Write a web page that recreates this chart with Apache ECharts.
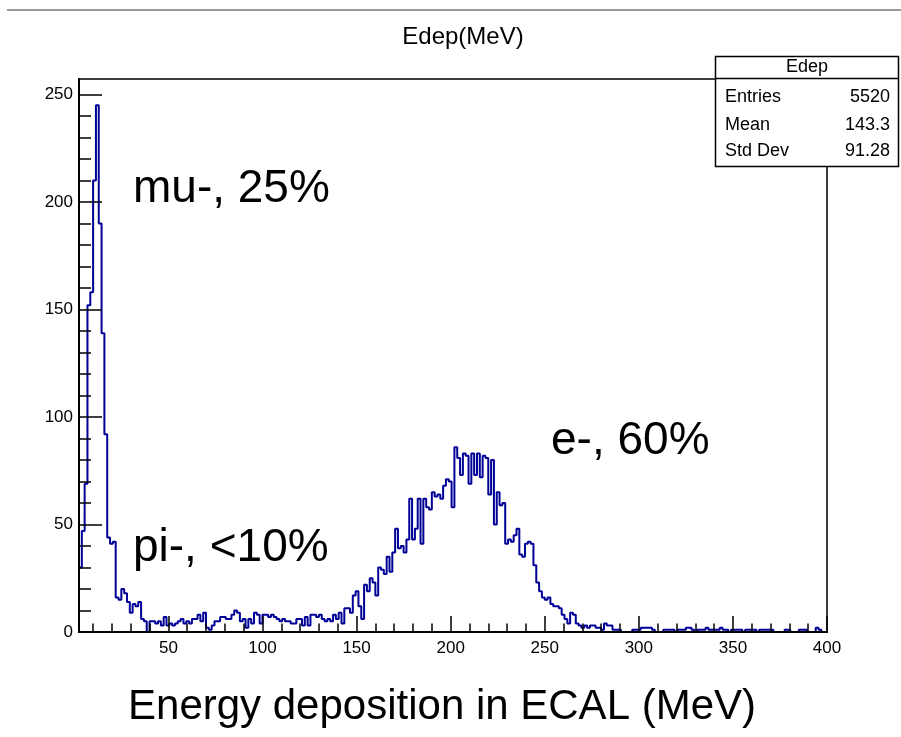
<!DOCTYPE html>
<html>
<head>
<meta charset="utf-8">
<script src="https://cdn.jsdelivr.net/npm/echarts@6/dist/echarts.min.js"></script>
<style>
  html, body { margin: 0; padding: 0; background: #ffffff; }
  #chart { width: 901px; height: 737px; }
</style>
</head>
<body>
<div id="chart"></div>
<script>
// Histogram binning (MeV)
const X_MIN = 2.5;
const X_MAX = 400;
const BIN_WIDTH = 1.5;
const Y_MAX = 257.25;

// Bin contents, split by region of the spectrum
const muonPeak = [30, 47, 69, 152, 158, 210, 245, 190, 139, 92, 44, 41, 42, 16, 15, 20, 18, 14, 9, 13, 12, 14];
const pionPlateau = [
  6, 5, 0, 5, 5, 4, 5, 3, 7, 3,
  4, 3, 4, 5, 6, 4, 5, 4, 6, 6,
  8, 5, 9, 2, 1, 3, 5, 5, 7, 7,
  6, 6, 8, 10, 9, 5, 6, 2, 6, 4,
  9, 8, 4, 8, 8, 7, 8, 7, 6, 5,
  6, 5, 5, 4, 4, 6, 6, 3, 7, 3,
  8, 8, 7, 8, 6, 5, 6, 5, 8, 6,
  9, 4, 11, 11, 9
];
const electronPeak = [
  17, 19, 12, 6, 22, 19, 25, 23, 17, 30,
  29, 27, 35, 28, 37, 48, 39, 40, 37, 43,
  62, 43, 48, 62, 41, 62, 58, 57, 65, 63,
  64, 62, 68, 71, 70, 58, 86, 81, 73, 83,
  82, 69, 83, 73, 83, 72, 82, 81, 64, 80,
  50, 65, 59, 60, 41, 43, 42, 45, 48, 36,
  35, 41, 42, 41, 31, 23, 19, 16, 15, 16,
  13, 12, 12, 11
];
const highTail = [
  8, 6, 4, 9, 8, 4, 3, 2, 3, 2,
  3, 3, 2, 2, 1, 4, 3, 3, 1, 1,
  1, 0, 0, 0, 0, 1, 1, 1, 2, 2,
  2, 2, 1, 0, 0, 0, 1, 1, 1, 1,
  0, 1, 1, 1, 2, 2, 1, 0, 1, 1,
  1, 2, 1, 1, 1, 1, 2, 1, 1, 0,
  1, 1, 1, 1, 0, 1, 1, 1, 1, 0,
  1, 1, 1, 1, 1, 0, 0, 0, 0, 1,
  1, 0, 0, 0, 1, 1, 1, 0, 0, 0,
  2, 1, 0, 0
];

// Axis ticks
const xMajorTicks = [50, 100, 150, 200, 250, 300, 350, 400];
const xMinorTicks = [10, 20, 30, 40, 60, 70, 80, 90, 110, 120, 130, 140, 160, 170, 180, 190,
  210, 220, 230, 240, 260, 270, 280, 290, 310, 320, 330, 340, 360, 370, 380, 390];
const yMajorTicks = [0, 50, 100, 150, 200, 250];
const yMinorTicks = [10, 20, 30, 40, 60, 70, 80, 90, 110, 120, 130, 140, 160, 170, 180, 190,
  210, 220, 230, 240];

// Texts
const histTitle = 'Edep(MeV)';
const xTitle = 'Energy deposition in ECAL (MeV)';
const statsName = 'Edep';
const statsLabels = ['Entries', 'Mean', 'Std Dev'];
const statsValues = ['5520', '143.3', '91.28'];
const notes = [
  { text: 'mu-, 25%', x: 133, y: 189 },
  { text: 'pi-, <10%', x: 133, y: 548 },
  { text: 'e-, 60%', x: 551, y: 441 }
];

const FONT = '"Liberation Sans", Arial, Helvetica, sans-serif';
const LINE_COLOR = '#000096';

const counts = muonPeak.concat(pionPlateau, electronPeak, highTail);
// step 'end': each point is a bin's lower edge, closing point at the upper range
const stepData = counts.map((c, i) => [X_MIN + i * BIN_WIDTH, c]);
stepData.push([X_MAX, counts[counts.length - 1]]);

const grid = { left: 79, top: 79, width: 748, height: 553 };

function text(str, x, y, size, align, vAlign) {
  return {
    type: 'text',
    z: 100,
    style: {
      text: str, x: x, y: y,
      fill: '#000',
      fontSize: size, fontFamily: FONT,
      align: align, verticalAlign: vAlign,
      textAlign: align, textVerticalAlign: vAlign
    }
  };
}

const statsBox = { x: 715.5, y: 56.5, w: 183, h: 110, head: 22 };
const statsRowY = [97, 125, 151];

const graphics = [
  { type: 'rect', z: 90, shape: { x: 7, y: 9, width: 894, height: 2 }, style: { fill: '#9a9a9a' } },
  text(histTitle, 463, 37, 24, 'center', 'middle'),
  {
    type: 'rect', z: 95,
    shape: { x: statsBox.x, y: statsBox.y, width: statsBox.w, height: statsBox.h },
    style: { fill: '#fff', stroke: '#000', lineWidth: 1.5 }
  },
  {
    type: 'line', z: 96,
    shape: { x1: statsBox.x, y1: statsBox.y + statsBox.head, x2: statsBox.x + statsBox.w, y2: statsBox.y + statsBox.head },
    style: { stroke: '#000', lineWidth: 1.5 }
  },
  text(statsName, statsBox.x + statsBox.w / 2, statsBox.y + 10.5, 18, 'center', 'middle'),
  text(xTitle, 442, 707, 42, 'center', 'middle')
];
statsLabels.forEach((lab, i) => {
  graphics.push(text(lab, 725, statsRowY[i], 18, 'left', 'middle'));
  graphics.push(text(statsValues[i], 890, statsRowY[i], 18, 'right', 'middle'));
});
notes.forEach(n => graphics.push(text(n.text, n.x, n.y, 46, 'left', 'middle')));

const axisText = { color: '#000', fontSize: 17, fontFamily: FONT };

const option = {
  animation: false,
  backgroundColor: '#fff',
  grid: Object.assign({ show: true, borderColor: '#000', borderWidth: 1.5, backgroundColor: 'transparent' }, grid),
  xAxis: [
    {
      type: 'value', min: X_MIN, max: X_MAX, position: 'bottom', z: 5,
      axisLine: { show: true, onZero: false, lineStyle: { color: '#000', width: 2 } },
      axisTick: { show: true, inside: true, length: 16, customValues: xMajorTicks, lineStyle: { color: '#000', width: 1.5 } },
      axisLabel: Object.assign({ show: true, margin: 8, customValues: xMajorTicks }, axisText),
      splitLine: { show: false }
    },
    {
      type: 'value', min: X_MIN, max: X_MAX, position: 'bottom', offset: 0, z: 5,
      axisLine: { show: false },
      axisTick: { show: true, inside: true, length: 8.5, customValues: xMinorTicks, lineStyle: { color: '#000', width: 1.5 } },
      axisLabel: { show: false },
      splitLine: { show: false }
    }
  ],
  yAxis: [
    {
      type: 'value', min: 0, max: Y_MAX, position: 'left', z: 5,
      axisLine: { show: true, onZero: false, lineStyle: { color: '#000', width: 2 } },
      axisTick: { show: true, inside: true, length: 23, customValues: yMajorTicks, lineStyle: { color: '#000', width: 1.5 } },
      axisLabel: Object.assign({ show: true, margin: 6, customValues: yMajorTicks }, axisText),
      splitLine: { show: false }
    },
    {
      type: 'value', min: 0, max: Y_MAX, position: 'left', offset: 0, z: 5,
      axisLine: { show: false },
      axisTick: { show: true, inside: true, length: 12, customValues: yMinorTicks, lineStyle: { color: '#000', width: 1.5 } },
      axisLabel: { show: false },
      splitLine: { show: false }
    }
  ],
  series: [
    {
      type: 'line',
      name: statsName,
      xAxisIndex: 0,
      yAxisIndex: 0,
      step: 'end',
      symbol: 'none',
      z: 2,
      lineStyle: { color: LINE_COLOR, width: 2 },
      data: stepData
    }
  ],
  graphic: { elements: graphics }
};

const chart = echarts.init(document.getElementById('chart'), null, { renderer: 'canvas' });
chart.setOption(option);
</script>
</body>
</html>
